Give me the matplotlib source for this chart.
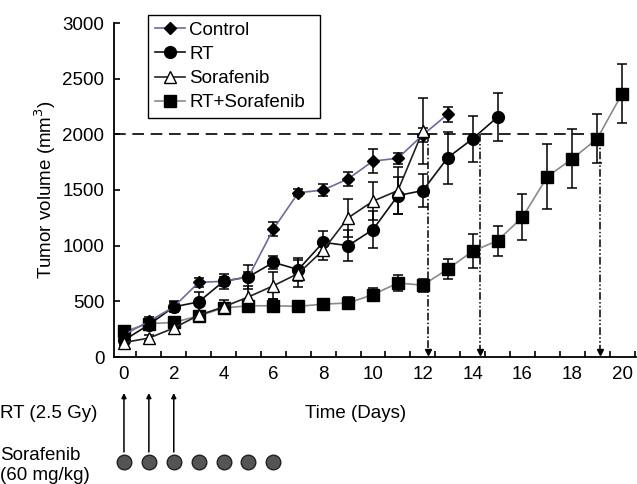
import numpy as np
import matplotlib
matplotlib.use("Agg")
import matplotlib.pyplot as plt

plt.rcParams["font.family"] = ["Liberation Sans", "DejaVu Sans"]

# Data
control_days = list(range(0, 14))
control_vol = [200, 320, 450, 670, 680, 720, 1150, 1475, 1500, 1600, 1760, 1785, 1995, 2180]
control_err = [40, 40, 40, 40, 40, 40, 60, 30, 50, 60, 110, 50, 60, 70]

rt_days = list(range(0, 16))
rt_vol = [150, 290, 450, 495, 680, 720, 850, 785, 1030, 1000, 1145, 1450, 1495, 1790, 1960, 2155]
rt_err = [40, 40, 50, 90, 70, 110, 60, 100, 100, 140, 170, 170, 150, 235, 205, 215]

sora_days = list(range(0, 13))
sora_vol = [130, 170, 260, 375, 450, 540, 640, 750, 960, 1250, 1400, 1495, 2030]
sora_err = [30, 30, 40, 40, 60, 100, 120, 120, 90, 170, 170, 210, 300]

combo_days = list(range(0, 21))
combo_vol = [230, 300, 310, 370, 440, 460, 460, 455, 475, 485, 560, 665, 645, 790,
             950, 1045, 1255, 1620, 1780, 1960, 2365]
combo_err = [40, 40, 40, 40, 40, 40, 60, 40, 40, 50, 60, 70, 60, 90,
             155, 135, 205, 295, 265, 220, 265]

endpoint_days = [12.2, 14.3, 19.1]
threshold = 2000

rt_dose_days = [0, 1, 2]
sorafenib_dose_days = [0, 1, 2, 3, 4, 5, 6]

FS = 13.5
W, H = 637, 484
fig = plt.figure(figsize=(W / 100, H / 100), dpi=100)

# main axes placed in pixel units
ax_left, ax_right, ax_top, ax_bottom = 114, 636, 23, 357
ax = fig.add_axes([ax_left / W, 1 - ax_bottom / H,
                   (ax_right - ax_left) / W, (ax_bottom - ax_top) / H])

ax.set_xlim(-0.40, 20.56)
ax.set_ylim(0, 3000)

# threshold line and endpoint arrows
ax.plot([-0.40, endpoint_days[-1]], [threshold, threshold], color="black",
        lw=1.2, dashes=(7, 4), zorder=1)
for d, ls in zip(endpoint_days, [(0, (5, 1.5, 1, 1.5)), (0, (5, 1.5, 1, 1.5, 1, 1.5)),
                                 (0, (5, 1.5, 1, 1.5, 1, 1.5))]):
    ax.plot([d, d], [threshold, 60], color="black", lw=1.1, linestyle=ls, zorder=1)
    ax.plot(d, 45, marker="v", color="black", markersize=5, clip_on=False, zorder=3)

common = dict(ecolor="black", elinewidth=1.1, capsize=3.5, capthick=1.1,
              markeredgecolor="black", lw=1.2)
c1 = ax.errorbar(control_days, control_vol, yerr=control_err, color="#6b6b9c",
                 marker="D", markersize=6.5, markerfacecolor="black",
                 label="Control", zorder=5, **common)
c2 = ax.errorbar(rt_days, rt_vol, yerr=rt_err, color="#111111", marker="o",
                 markersize=8.5, markerfacecolor="black", label="RT", zorder=4,
                 **common)
c3 = ax.errorbar(sora_days, sora_vol, yerr=sora_err, color="#222222", marker="^",
                 markersize=8, markerfacecolor="white", label="Sorafenib",
                 zorder=6, **common)
c4 = ax.errorbar(combo_days, combo_vol, yerr=combo_err, color="#8a8a8a",
                 marker="s", markersize=8.5, markerfacecolor="black",
                 label="RT+Sorafenib", zorder=3, **common)

for side in ["top", "right"]:
    ax.spines[side].set_visible(False)
for side in ["left", "bottom"]:
    ax.spines[side].set_linewidth(1.3)

ax.set_yticks(np.arange(0, 3001, 500))
ax.set_xticks(np.arange(0, 21, 2))
ax.set_xticks(np.arange(0.5, 20.6, 1), minor=True)
ax.tick_params(axis="y", direction="in", length=4, width=1.2, labelsize=FS, pad=7)
ax.tick_params(axis="x", which="major", length=0, labelsize=FS, pad=6.5)
ax.tick_params(axis="x", which="minor", direction="in", length=4, width=1.2)

ax.set_ylabel("Tumor volume (mm$^3$)", fontsize=FS, labelpad=3)

# legend shows line + marker only (no error bars)
handles = [c[0] for c in (c1, c2, c3, c4)]
labels = ["Control", "RT", "Sorafenib", "RT+Sorafenib"]
leg = ax.legend(handles, labels, loc="upper left",
                bbox_to_anchor=(148 / W, 1 - 113 / H, 172 / W, 98 / H),
                bbox_transform=fig.transFigure, mode="expand", borderaxespad=0,
                fontsize=FS, frameon=True, fancybox=False, edgecolor="black",
                framealpha=1, handlelength=1.6, handletextpad=0.25,
                labelspacing=0.38, borderpad=0.35)
leg.get_frame().set_linewidth(1.0)

# lower annotation panel, y in pixel rows
ax2 = fig.add_axes([ax_left / W, 0, (ax_right - ax_left) / W, 100 / H])
ax2.set_xlim(ax.get_xlim())
ax2.set_ylim(H, H - 100)
ax2.axis("off")

for d in rt_dose_days:
    ax2.annotate("", xy=(d, 393), xytext=(d, 452),
                 arrowprops=dict(arrowstyle="-|>", color="black", lw=1.1,
                                 mutation_scale=7, shrinkA=0, shrinkB=0))
ax2.plot(sorafenib_dose_days, [462] * len(sorafenib_dose_days), "o",
         markersize=10.5, markerfacecolor="#555555", markeredgecolor="#222222",
         markeredgewidth=1.0, clip_on=False)

fig.text(0 / W, 1 - 413 / H, "RT (2.5 Gy)", fontsize=FS, va="center", ha="left")
fig.text(0 / W, 1 - 455 / H, "Sorafenib", fontsize=FS, va="center", ha="left")
fig.text(0 / W, 1 - 475 / H, "(60 mg/kg)", fontsize=FS, va="center", ha="left")
fig.text(305 / W, 1 - 413 / H, "Time (Days)", fontsize=FS, va="center", ha="left")

fig.savefig("out.png", dpi=100)
